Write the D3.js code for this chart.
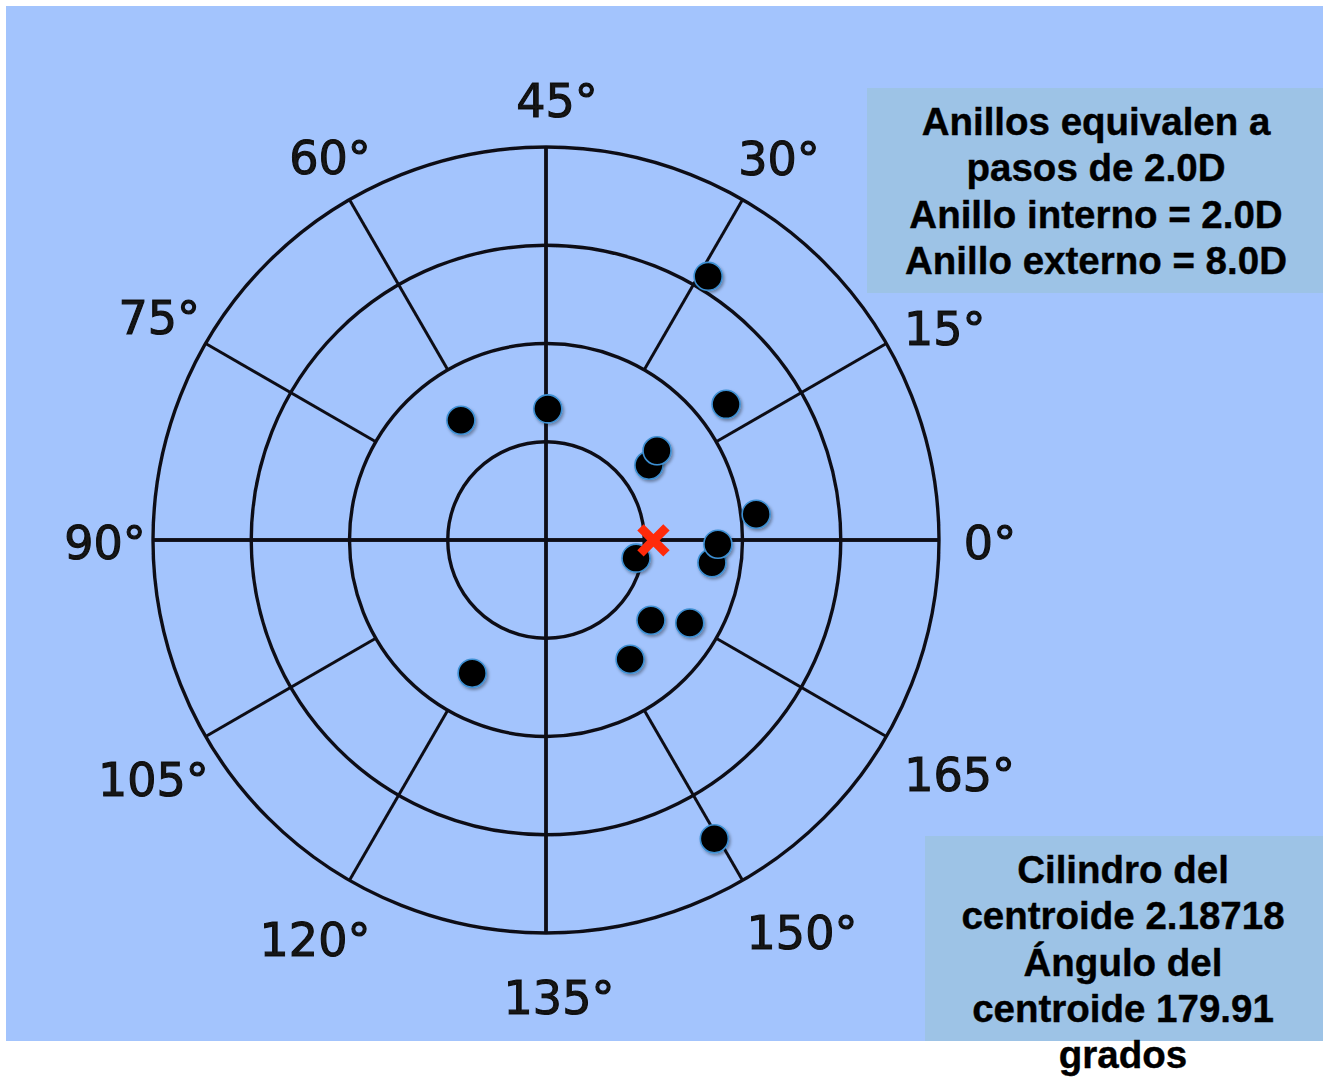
<!DOCTYPE html>
<html>
<head>
<meta charset="utf-8">
<script src="https://cdn.jsdelivr.net/npm/d3@7"></script>
<style>
  html, body { margin: 0; padding: 0; background: #ffffff; }
  svg { display: block; }
</style>
</head>
<body>
<svg id="chart" width="1323" height="1078"></svg>
<script>
// Cylinder measurements on a double-angle plot: axis (degrees) and power (D)
const axisDeg = [29.2, 18.5, 18.0, 19.4, 3.5, 176.1, 179.3, 174.3, 161.3, 165.0, 152.6, 149.7, 120.5, 62.7, 44.6];
const powerD  = [6.30, 4.59, 2.59, 2.90, 4.31, 3.41, 3.50, 1.87, 2.69, 3.38, 2.97, 6.98, 3.10, 2.99, 2.67];

// Centroid of the set
const centroidPower = 2.18718;
const centroidAxis = 179.91;

// Rings (D) and angular tick labels (degrees of axis)
const ringValues = [2, 4, 6, 8];
const axisTicks = [0, 15, 30, 45, 60, 75, 90, 105, 120, 135, 150, 165];
const tickLabels = axisTicks.map(d => d + "°");

// Text boxes
const infoLines = ["Anillos equivalen a", "pasos de 2.0D", "Anillo interno = 2.0D", "Anillo externo = 8.0D"];
const centroidLines = ["Cilindro del", "centroide " + centroidPower, "Ángulo del", "centroide " + centroidAxis, "grados"];

const svg = d3.select("#chart");
const W = 1323, H = 1078;
const cx = 546, cy = 540;

const defs = svg.append("defs");
defs.append("filter").attr("id", "soft")
  .append("feGaussianBlur").attr("stdDeviation", 0.6);
const shadow = defs.append("filter").attr("id", "shadow")
  .attr("x", "-50%").attr("y", "-50%").attr("width", "200%").attr("height", "200%");
shadow.append("feDropShadow").attr("dx", 1.5).attr("dy", 2).attr("stdDeviation", 1.5)
  .attr("flood-color", "#000").attr("flood-opacity", 0.35);

// Background panel
svg.append("rect").attr("x", 6).attr("y", 6).attr("width", W - 6).attr("height", 1035)
  .attr("fill", "#a3c4fd");

// Scales: power -> radius, axis -> doubled angle
const r = d3.scaleLinear().domain([0, 8]).range([0, 393]);
const theta = d3.scaleLinear().domain([0, 180]).range([0, 2 * Math.PI]);
const px = (a, p) => cx + r(p) * Math.cos(theta(a));
const py = (a, p) => cy - r(p) * Math.sin(theta(a));

const grid = svg.append("g").attr("filter", "url(#soft)")
  .attr("stroke", "#111118").attr("fill", "none");

grid.selectAll("circle.ring").data(ringValues).join("circle")
  .attr("class", "ring")
  .attr("cx", cx).attr("cy", cy).attr("r", d => r(d))
  .attr("stroke-width", 3.4);

// Spokes: the four principal axes span the full diameter,
// the others run from the second ring to the outer ring.
grid.selectAll("line.spoke").data(axisTicks).join("line")
  .attr("class", "spoke")
  .attr("x1", d => d % 45 === 0 ? px(d + 90, 8) : px(d, ringValues[1]))
  .attr("y1", d => d % 45 === 0 ? py(d + 90, 8) : py(d, ringValues[1]))
  .attr("x2", d => px(d, 8))
  .attr("y2", d => py(d, 8))
  .attr("stroke-width", d => d % 45 === 0 ? 3.4 : 3);

// Angle labels around the outside
const labelNudge = {0: [-6, -5], 15: [9, 6], 30: [8, 1], 45: [11, 3], 60: [9, 0], 75: [3, -5],
  90: [9, -5], 105: [-3, 7], 120: [-6, 2], 135: [13, 0], 150: [31, -5], 165: [24, 2]};
svg.append("g").attr("filter", "url(#soft)")
  .selectAll("text").data(axisTicks).join("text")
  .attr("x", d => px(d, 8) + (px(d, 8) - cx) * (57 / 393) + labelNudge[d][0])
  .attr("y", d => py(d, 8) + (py(d, 8) - cy) * (57 / 393) + 8 + labelNudge[d][1])
  .attr("text-anchor", "middle")
  .attr("dominant-baseline", "central")
  .attr("font-family", "DejaVu Sans, sans-serif")
  .attr("font-size", 46)
  .attr("fill", "#121212")
  .attr("stroke", "#121212").attr("stroke-width", 1.1)
  .text((d, i) => tickLabels[i]);

// Data points
svg.append("g").selectAll("circle.pt").data(axisDeg).join("circle")
  .attr("class", "pt")
  .attr("cx", (d, i) => px(d, powerD[i]))
  .attr("cy", (d, i) => py(d, powerD[i]))
  .attr("r", 14)
  .attr("fill", "#000")
  .attr("stroke", "#3d8fd2")
  .attr("stroke-width", 1.6)
  .attr("filter", "url(#shadow)");

// Centroid marker
const mx = px(centroidAxis, centroidPower), my = py(centroidAxis, centroidPower);
const arm = 13;
svg.append("path")
  .attr("d", `M${mx - arm},${my - arm}L${mx + arm},${my + arm}M${mx - arm},${my + arm}L${mx + arm},${my - arm}`)
  .attr("stroke", "#ff2a0a").attr("stroke-width", 9).attr("fill", "none");

// Information boxes
function textBox(x, y, w, h, lines, centerX, firstBaseline) {
  svg.append("rect").attr("x", x).attr("y", y).attr("width", w).attr("height", h).attr("fill", "#9dc3e6");
  svg.append("g").selectAll("text").data(lines).join("text")
    .attr("x", centerX)
    .attr("y", (d, i) => firstBaseline + i * 46.3)
    .attr("text-anchor", "middle")
    .attr("font-family", "Liberation Sans, Arial, sans-serif")
    .attr("font-weight", "bold")
    .attr("font-size", 38.5)
    .attr("fill", "#000")
    .attr("stroke", "#000").attr("stroke-width", 0.4)
    .text(d => d);
}
textBox(867, 88, W - 867, 205, infoLines, 1096, 135);
textBox(925, 836, W - 925, 205, centroidLines, 1123, 883);
</script>
</body>
</html>
